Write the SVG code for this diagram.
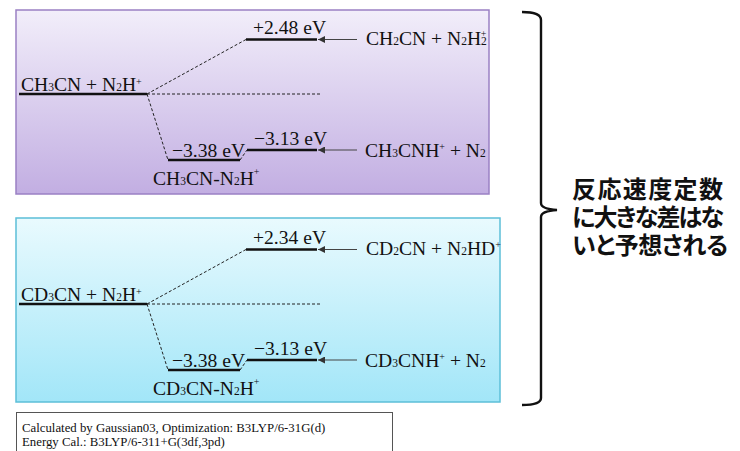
<svg xmlns="http://www.w3.org/2000/svg" width="740" height="451" viewBox="0 0 740 451">
<defs>
<linearGradient id="gP" x1="0" y1="0" x2="0" y2="1">
<stop offset="0" stop-color="#f2eefa"/>
<stop offset="1" stop-color="#c2aee2"/>
</linearGradient>
<linearGradient id="gC" x1="0" y1="0" x2="0" y2="1">
<stop offset="0" stop-color="#e9fafe"/>
<stop offset="1" stop-color="#a2e6f8"/>
</linearGradient>
<marker id="ah" viewBox="0 0 10 10" refX="10" refY="5" markerWidth="9" markerHeight="7" markerUnits="userSpaceOnUse" orient="auto">
<path d="M0,0 L10,5 L0,10 z" fill="#333"/>
</marker>
<style>
.t{font-family:"Liberation Serif","Times New Roman",serif;font-size:19.6px;fill:#111}
.sb{font-size:11.5px}
.sp{font-size:10px}
.lv{stroke:#111;stroke-width:2.6;fill:none}
.ds{stroke:#222;stroke-width:1;stroke-dasharray:3,2;fill:none}
.ar{stroke:#444;stroke-width:1.2;fill:none;marker-end:url(#ah)}
.jp{font-family:"Noto Sans CJK JP","Noto Sans",sans-serif;font-size:24px;font-weight:700;fill:#111;font-feature-settings:"palt" 1}
.fn{font-family:"Liberation Serif","Times New Roman",serif;font-size:12.8px;fill:#111}
</style>
</defs>

<g id="panel-ch3cn">
<rect x="16" y="10" width="473" height="184" fill="url(#gP)" stroke="#9a80c4" stroke-width="1.5"/>
</g>
<g id="panel-cd3cn">
<rect x="16" y="218" width="484" height="184" fill="url(#gC)" stroke="#5cbfd8" stroke-width="1.5"/>
</g>

<g id="connectors">
<path class="ds" d="M147,94 L246,39.5 M147,94 L322,94 M147,94 L168,160 M240,160 L247,150"/>
<path class="ar" d="M357,39.5 L318,39.5"/>
<path class="ar" d="M357,150 L318,150"/>
<path class="ds" d="M147,304 L246,249.5 M147,304 L322,304 M147,304 L168,370 M240,370 L247,360"/>
<path class="ar" d="M357,249.5 L318,249.5"/>
<path class="ar" d="M357,360 L318,360"/>
</g>

<g id="node-ch3cn-n2h">
<path class="lv" d="M19,94 L147,94"/>
<text class="t" x="21" y="91">CH<tspan class="sb">3</tspan>CN + N<tspan class="sb">2</tspan>H<tspan class="sp" baseline-shift="6">+</tspan></text>
</g>
<g id="node-ch2cn-n2h2">
<path class="lv" d="M246,39.5 L317,39.5"/>
<text class="t" x="253" y="34">+2.48 eV</text>
<text class="t" x="366" y="45">CH<tspan class="sb">2</tspan>CN + N<tspan class="sb">2</tspan>H<tspan class="sb">2</tspan><tspan class="sp" dx="-6" baseline-shift="8">+</tspan></text>
</g>
<g id="node-ch3cn-n2h-complex">
<path class="lv" d="M168,160 L240,160"/>
<text class="t" x="172" y="157">−3.38 eV</text>
<text class="t" x="153" y="185">CH<tspan class="sb">3</tspan>CN-N<tspan class="sb">2</tspan>H<tspan class="sp" baseline-shift="10">+</tspan></text>
</g>
<g id="node-ch3cnh-n2">
<path class="lv" d="M247,150 L317,150"/>
<text class="t" x="254" y="145">−3.13 eV</text>
<text class="t" x="365" y="157">CH<tspan class="sb">3</tspan>CNH<tspan class="sp" baseline-shift="7">+</tspan> + N<tspan class="sb">2</tspan></text>
</g>

<g id="node-cd3cn-n2h">
<path class="lv" d="M19,304 L147,304"/>
<text class="t" x="21" y="301">CD<tspan class="sb">3</tspan>CN + N<tspan class="sb">2</tspan>H<tspan class="sp" baseline-shift="6">+</tspan></text>
</g>
<g id="node-cd2cn-n2hd">
<path class="lv" d="M246,249.5 L317,249.5"/>
<text class="t" x="253" y="244">+2.34 eV</text>
<text class="t" x="366" y="255">CD<tspan class="sb">2</tspan>CN + N<tspan class="sb">2</tspan>HD<tspan class="sp" baseline-shift="7">+</tspan></text>
</g>
<g id="node-cd3cn-n2h-complex">
<path class="lv" d="M168,370 L240,370"/>
<text class="t" x="172" y="367">−3.38 eV</text>
<text class="t" x="153" y="395">CD<tspan class="sb">3</tspan>CN-N<tspan class="sb">2</tspan>H<tspan class="sp" baseline-shift="10">+</tspan></text>
</g>
<g id="node-cd3cnh-n2">
<path class="lv" d="M247,360 L317,360"/>
<text class="t" x="254" y="355">−3.13 eV</text>
<text class="t" x="365" y="367">CD<tspan class="sb">3</tspan>CNH<tspan class="sp" baseline-shift="7">+</tspan> + N<tspan class="sb">2</tspan></text>
</g>

<g id="bracket">
<path d="M522,12 Q541,12 541,20 L541,203 Q541,209 557,210 Q541,211 541,217 L541,398 Q541,405 522,405" fill="none" stroke="#111" stroke-width="2.4"/>
</g>
<g id="conclusion">
<text class="jp" x="572" y="198" textLength="151" lengthAdjust="spacing">反応速度定数</text>
<text class="jp" x="572" y="226" textLength="152" lengthAdjust="spacing">に大きな差はな</text>
<text class="jp" x="572" y="254" textLength="156" lengthAdjust="spacing">いと予想される</text>
</g>

<g id="footnote">
<rect x="16.5" y="412.5" width="376" height="60" fill="#fff" stroke="#555" stroke-width="1"/>
<text class="fn" x="22" y="432">Calculated by Gaussian03, Optimization: B3LYP/6-31G(d)</text>
<text class="fn" x="22" y="446">Energy Cal.: B3LYP/6-311+G(3df,3pd)</text>
</g>
</svg>
